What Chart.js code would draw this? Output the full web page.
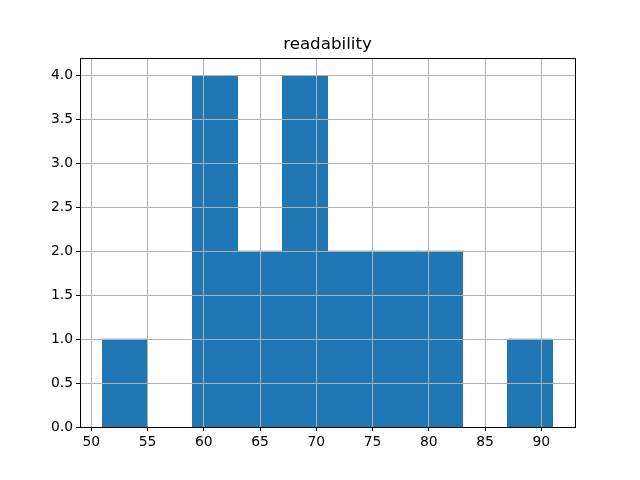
<!DOCTYPE html>
<html>
<head>
<meta charset="utf-8">
<script src="https://cdn.jsdelivr.net/npm/chart.js@4/dist/chart.umd.min.js"></script>
<style>
html,body{margin:0;padding:0;background:#fff;}
canvas{display:block;}
</style>
</head>
<body>
<canvas id="c" width="640" height="480"></canvas>
<script>
const binCenters = [53, 57, 61, 65, 69, 73, 77, 81, 85, 89];
const counts = [1, 0, 4, 2, 4, 2, 2, 2, 0, 1];
const xTicks = [50, 55, 60, 65, 70, 75, 80, 85, 90];
const yTicks = [0, 0.5, 1, 1.5, 2, 2.5, 3, 3.5, 4];
const titleText = 'readability';

const FONT = 'DejaVu Sans';

const frame = {
  id: 'frame',
  afterDraw(chart) {
    const a = chart.chartArea, ctx = chart.ctx;
    ctx.save();
    ctx.strokeStyle = '#000';
    ctx.lineWidth = 1;
    ctx.strokeRect(Math.round(a.left) + 0.5, Math.round(a.top) + 0.5,
      Math.round(a.right - a.left), Math.round(a.bottom - a.top));
    ctx.fillStyle = '#000';
    ctx.font = '16.7px "' + FONT + '"';
    ctx.textAlign = 'center';
    ctx.textBaseline = 'alphabetic';
    ctx.fillText(titleText, (a.left + a.right) / 2, a.top - 9);
    ctx.restore();
  }
};

new Chart(document.getElementById('c'), {
  type: 'bar',
  data: {
    datasets: [{
      data: binCenters.map((x, i) => ({x: x, y: counts[i]})),
      backgroundColor: '#1f77b4',
      borderWidth: 0,
      inflateAmount: c => (c.raw && c.raw.y === 0) ? 0 : 0.5,
      barPercentage: 1,
      categoryPercentage: 1
    }]
  },
  options: {
    responsive: false,
    animation: false,
    layout: {padding: {left: 0, right: 65, top: 58, bottom: 0}},
    plugins: {
      legend: {display: false},
      tooltip: {enabled: false},
      title: {display: false}
    },
    scales: {
      x: {
        type: 'linear',
        offset: false,
        min: 49, max: 93,
        afterBuildTicks: s => { s.ticks = xTicks.map(v => ({value: v})); },
        afterFit: s => { s.height = 53; },
        grid: {offset: false, color: '#b0b0b0', lineWidth: 1, z: 1, drawTicks: true, tickLength: 4, tickColor: '#000'},
        border: {display: false},
        ticks: {color: '#000', font: {family: FONT, size: 13.9}, padding: 3, maxRotation: 0,
          callback: v => String(v)}
      },
      y: {
        min: 0, max: 4.2,
        afterBuildTicks: s => { s.ticks = yTicks.map(v => ({value: v})); },
        afterFit: s => { s.width = 80; },
        grid: {color: '#b0b0b0', lineWidth: 1, z: 1, drawTicks: true, tickLength: 4, tickColor: '#000'},
        border: {display: false},
        ticks: {color: '#000', font: {family: FONT, size: 13.9}, padding: 3,
          callback: v => Number(v).toFixed(1)}
      }
    }
  },
  plugins: [frame]
});
</script>
</body>
</html>
